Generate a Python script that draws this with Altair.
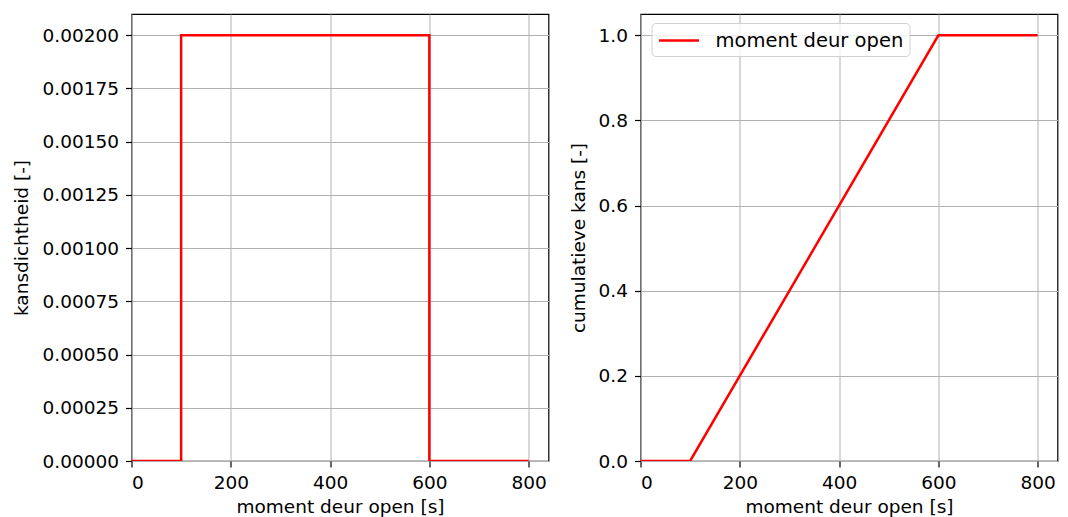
import altair as alt
import pandas as pd

# data
pdf_x = [0, 100, 100, 600, 600, 800]
pdf_y = [0.0, 0.0, 0.002, 0.002, 0.0, 0.0]
cdf_x = [0, 100, 600, 800]
cdf_y = [0.0, 0.0, 1.0, 1.0]
series = "moment deur open"
x_ticks = [0, 200, 400, 600, 800]
pdf_ticks = [0.0, 0.00025, 0.0005, 0.00075, 0.001, 0.00125, 0.0015, 0.00175, 0.002]
cdf_ticks = [0.0, 0.2, 0.4, 0.6, 0.8, 1.0]

df_pdf = pd.DataFrame({"x": pdf_x, "y": pdf_y, "i": list(range(len(pdf_x))), "s": series})
df_cdf = pd.DataFrame({"x": cdf_x, "y": cdf_y, "i": list(range(len(cdf_x))), "s": series})

FONT = "DejaVu Sans"
FS = 18.5
W, H = 417, 447

x_enc = alt.X("x:Q", scale=alt.Scale(domain=[0, 840], nice=False, zero=False),
              axis=alt.Axis(values=x_ticks, title="moment deur open [s]", format="d"))

left = alt.Chart(df_pdf).mark_line(color="#ff0000", strokeWidth=2.5, clip=True).encode(
    x=x_enc,
    y=alt.Y("y:Q", scale=alt.Scale(domain=[0, 0.0021], nice=False),
            axis=alt.Axis(values=pdf_ticks, format=".5f", title="kansdichtheid [-]")),
    order="i:Q",
).properties(width=W, height=H)

right = alt.Chart(df_cdf).mark_line(strokeWidth=2.5, clip=True).encode(
    x=x_enc,
    y=alt.Y("y:Q", scale=alt.Scale(domain=[0, 1.05], nice=False),
            axis=alt.Axis(values=cdf_ticks, format=".1f", title="cumulatieve kans [-]")),
    color=alt.Color("s:N", scale=alt.Scale(domain=[series], range=["#ff0000"]),
                    legend=alt.Legend(title=None, orient="none", legendX=11, legendY=9,
                                      symbolType="M-1,0H3", symbolStrokeWidth=2.5, symbolSize=400,
                                      labelFontSize=19.5, labelFont=FONT, labelColor="black",
                                      labelLimit=400, labelOffset=35, padding=6,
                                      strokeColor="#d0d0d0", cornerRadius=4,
                                      fillColor="rgba(255,255,255,0.8)")),
    order="i:Q",
).properties(width=W, height=H)

chart = alt.hconcat(left, right, spacing=18).resolve_legend(color="independent").properties(
    padding={"left": 3.5, "top": 5, "right": 0, "bottom": 0}
).configure_view(
    stroke="black", strokeWidth=1.2
).configure_axis(
    domain=False, tickColor="black", tickSize=6, tickWidth=1.2,
    grid=True, gridColor="#b0b0b0", gridWidth=1,
    labelFont=FONT, labelFontSize=FS, labelColor="black", labelPadding=6,
    titleFont=FONT, titleFontSize=FS, titleColor="black", titleFontWeight="normal",
).configure_axisY(titlePadding=10, labelPadding=7).configure_axisX(titlePadding=6)

chart.save("out.html", embed_options={"renderer": "svg", "actions": False})
